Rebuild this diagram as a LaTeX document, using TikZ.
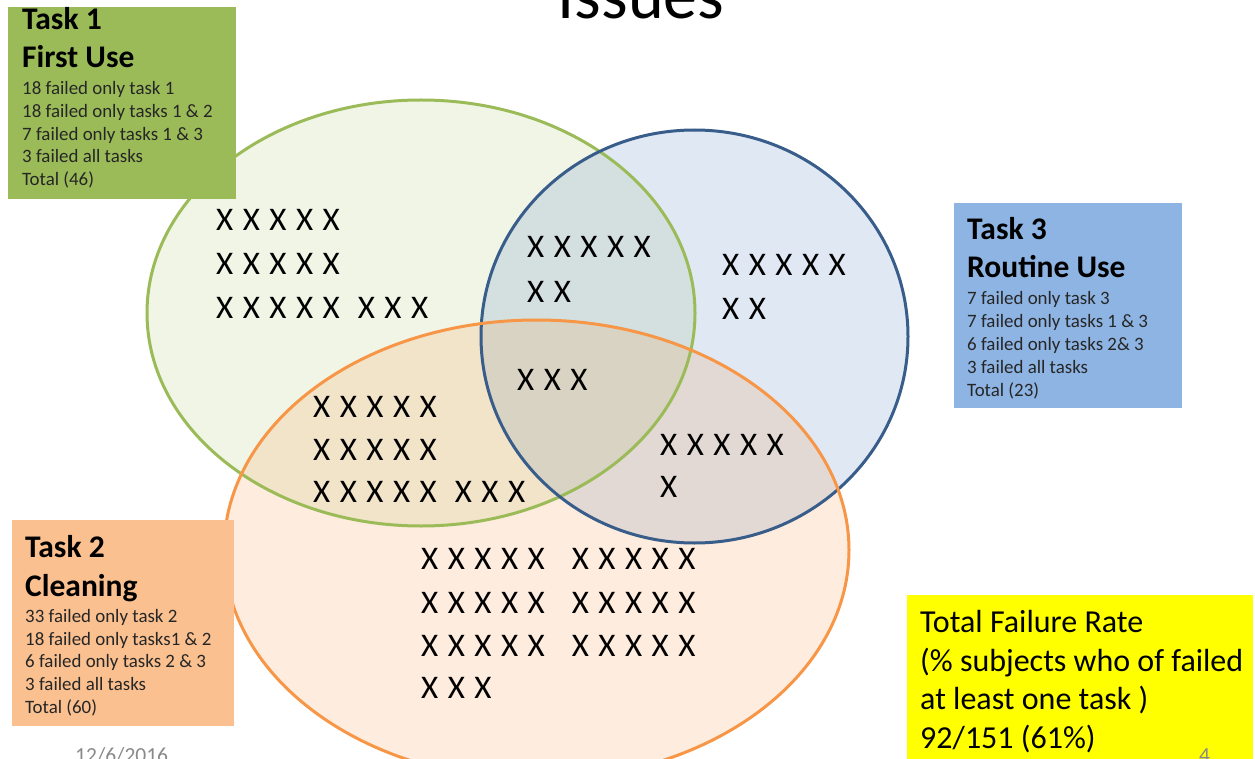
\documentclass[tikz,border=0pt]{standalone}
\usepackage{fontspec}
\setmainfont{Carlito}
\definecolor{gline}{HTML}{9BBB59}
\definecolor{bline}{HTML}{385D8A}
\definecolor{oline}{HTML}{F79646}
\definecolor{gfill}{HTML}{9BBB59}
\definecolor{bfill}{HTML}{4F81BD}
\definecolor{ofill}{HTML}{F79646}
\definecolor{gbox}{HTML}{9BBB59}
\definecolor{bbox}{HTML}{8EB4E3}
\definecolor{obox}{HTML}{FAC090}
\definecolor{ybox}{HTML}{FFFF00}
\definecolor{smalltext}{HTML}{262626}
\definecolor{foot}{HTML}{898989}
\newcommand\Xrow[1]{{\spaceskip=9.5pt\relax #1}}
\begin{document}
\begin{tikzpicture}[x=1pt,y=-1pt,
  setline/.style={line width=3pt},
  panel/.style={anchor=north west,inner sep=0pt,outer sep=0pt},
  head/.style={anchor=base west,inner sep=0pt,font=\fontsize{31.5}{36}\selectfont\bfseries},
  small/.style={anchor=base west,inner sep=0pt,text=smalltext,font=\fontsize{18.9}{22}\selectfont},
  big/.style={anchor=base west,inner sep=0pt,font=\fontsize{32}{38}\selectfont},
  xs/.style={anchor=base west,inner sep=0pt,font=\fontsize{33}{40}\selectfont},
  footer/.style={anchor=base west,inner sep=0pt,text=foot,font=\fontsize{21.5}{26}\selectfont}]
\useasboundingbox (0,0) rectangle (1255,759);
\clip (0,0) rectangle (1255,759);
% title (cut off at top)
\node[anchor=base,inner sep=0pt,font=\fontsize{68}{80}\selectfont] (title) at (641,19) {Issues};
% ellipses
\fill[gfill,fill opacity=0.15] (421,313) ellipse [x radius=274, y radius=213];
\fill[bfill,fill opacity=0.18] (694.5,336.5) ellipse [x radius=213.5, y radius=206.5];
\fill[ofill,fill opacity=0.18] (536.5,550) ellipse [x radius=312.5, y radius=230];
\draw[setline,gline] (421,313) ellipse [x radius=274, y radius=213];
\draw[setline,bline] (694.5,336.5) ellipse [x radius=213.5, y radius=206.5];
\draw[setline,oline] (536.5,550) ellipse [x radius=312.5, y radius=230];
% footer
\node[footer] (date) at (75,762) {12/6/2016};
% boxes
\node[panel,fill=gbox,minimum width=228pt,minimum height=192pt] (box1) at (8,7) {};
\node[panel,fill=bbox,minimum width=228pt,minimum height=205pt] (box3) at (954,203) {};
\node[panel,fill=obox,minimum width=222pt,minimum height=206pt] (box2) at (12,520) {};
\node[panel,fill=ybox,minimum width=346pt,minimum height=170pt] (box4) at (907,595) {};
\node[footer] (page) at (1199,762) {4};
% Task 1 text
\node[head] (t1a) at (22,30) {Task 1};
\node[head] (t1b) at (22,68) {First Use};
\node[small] (t1c) at (22,95) {18 failed only task 1};
\node[small] (t1d) at (22,117.7) {18 failed only tasks 1 \& 2};
\node[small] (t1e) at (22,140.4) {7 failed only tasks 1 \& 3};
\node[small] (t1f) at (22,163) {3 failed all tasks};
\node[small] (t1g) at (22,186) {Total (46)};
% Task 3 text
\node[head] (t3a) at (967,240) {Task 3};
\node[head] (t3b) at (967,278) {Routine Use};
\node[small] (t3c) at (967,305) {7 failed only task 3};
\node[small] (t3d) at (967,327.7) {7 failed only tasks 1 \& 3};
\node[small] (t3e) at (967,350.4) {6 failed only tasks 2\& 3};
\node[small] (t3f) at (967,373) {3 failed all tasks};
\node[small] (t3g) at (967,396) {Total (23)};
% Task 2 text
\node[head] (t2a) at (25,557) {Task 2};
\node[head] (t2b) at (25,596) {Cleaning};
\node[small] (t2c) at (25,622) {33 failed only task 2};
\node[small] (t2d) at (25,645) {18 failed only tasks1 \& 2};
\node[small] (t2e) at (25,667.7) {6 failed only tasks 2 \& 3};
\node[small] (t2f) at (25,690.4) {3 failed all tasks};
\node[small] (t2g) at (25,713) {Total (60)};
% total failure rate
\node[big] (r1) at (920,632) {Total Failure Rate};
\node[big] (r2) at (920,671) {(\% subjects who of failed};
\node[big] (r3) at (920,709) {at least one task )};
\node[big] (r4) at (920,748) {92/151 (61\%)};
% X marks: task 1 only
\node[xs] (xa1) at (216,231) {\Xrow{X X X X X}};
\node[xs] (xa2) at (216,275) {\Xrow{X X X X X}};
\node[xs] (xa3) at (216,318) {\Xrow{X X X X X\hspace{8.5pt} X X X}};
% task 1 & 3
\node[xs] (xb1) at (527,258) {\Xrow{X X X X X}};
\node[xs] (xb2) at (527,302) {\Xrow{X X}};
% task 3 only
\node[xs] (xc1) at (722,276) {\Xrow{X X X X X}};
\node[xs] (xc2) at (722,319) {\Xrow{X X}};
% all tasks
\node[xs] (xd1) at (517,390) {\Xrow{X X X}};
% task 1 & 2
\node[xs] (xe1) at (313,417) {\Xrow{X X X X X}};
\node[xs] (xe2) at (313,460) {\Xrow{X X X X X}};
\node[xs] (xe3) at (313,502) {\Xrow{X X X X X\hspace{8.5pt} X X X}};
% task 2 & 3
\node[xs] (xf1) at (660,455) {\Xrow{X X X X X}};
\node[xs] (xf2) at (660,497) {X};
% task 2 only
\node[xs] (xg1) at (421,569) {\Xrow{X X X X X\hspace{17.5pt} X X X X X}};
\node[xs] (xg2) at (421,613) {\Xrow{X X X X X\hspace{17.5pt} X X X X X}};
\node[xs] (xg3) at (421,656) {\Xrow{X X X X X\hspace{17.5pt} X X X X X}};
\node[xs] (xg4) at (421,698) {\Xrow{X X X}};
\end{tikzpicture}
\end{document}
